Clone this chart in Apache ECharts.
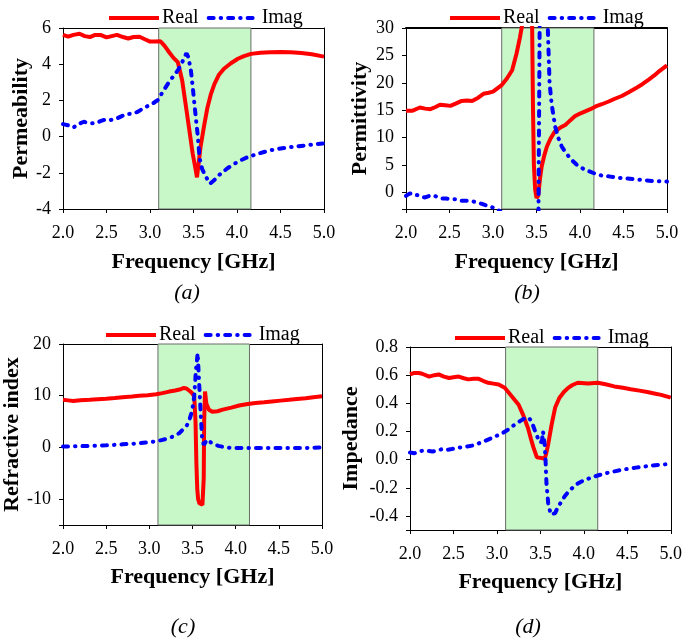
<!DOCTYPE html>
<html><head><meta charset="utf-8">
<script src="https://cdn.jsdelivr.net/npm/echarts@6/dist/echarts.min.js"></script>
<style>html,body{margin:0;padding:0;background:#fff}#c{width:685px;height:639px}</style>
</head><body><div id="c"></div>
<script>
// ---------- data ----------
const seriesNames = ['Real', 'Imag'];
const panelLabels = ['(a)', '(b)', '(c)', '(d)'];
const yTitles = ['Permeability', 'Permittivity', 'Refractive index', 'Impedance'];
const xTitle = 'Frequency [GHz]';
const band = [3.1, 4.16];
const xRange = [2, 5];
const xStep = 0.5;
const yRanges = [[-4, 6], [-3, 30], [-15, 20], [-0.5, 0.8]];
const yLabelSteps = [2, 5, 10, 0.2];

// (a) Permeability
const aRealF = [2.00,2.06,2.12,2.19,2.25,2.31,2.37,2.43,2.50,2.56,2.62,2.69,2.75,2.81,2.88,2.94,3.00,3.06,3.12,3.17,3.22,3.27,3.32,3.37,3.41,3.45,3.49,3.52,3.54,3.56,3.58,3.62,3.66,3.70,3.74,3.79,3.85,3.93,4.01,4.08,4.16,4.27,4.38,4.50,4.62,4.74,4.86,5.00];
const aRealV = [5.62,5.52,5.62,5.68,5.55,5.50,5.62,5.62,5.48,5.55,5.62,5.50,5.42,5.50,5.52,5.38,5.25,5.25,5.27,5.00,4.66,4.35,4.11,3.10,1.77,0.43,-0.92,-1.70,-2.25,-1.45,-0.60,0.55,1.60,2.35,2.90,3.40,3.75,4.05,4.30,4.45,4.57,4.63,4.66,4.67,4.66,4.62,4.55,4.42];
const aImagF = [2.00,2.06,2.12,2.18,2.24,2.30,2.37,2.43,2.49,2.55,2.61,2.67,2.73,2.79,2.85,2.91,2.97,3.03,3.09,3.15,3.21,3.27,3.32,3.37,3.40,3.42,3.44,3.47,3.49,3.51,3.53,3.55,3.57,3.60,3.64,3.69,3.74,3.80,3.89,3.97,4.05,4.13,4.22,4.31,4.40,4.50,4.60,4.70,4.80,4.90,5.00];
const aImagV = [0.69,0.62,0.50,0.70,0.82,0.74,0.73,0.85,0.95,0.92,0.98,1.12,1.25,1.26,1.35,1.52,1.68,1.82,2.02,2.50,2.95,3.35,3.66,4.10,4.45,4.60,4.40,3.66,2.80,1.82,0.90,0.00,-1.20,-1.80,-2.20,-2.60,-2.40,-2.10,-1.75,-1.50,-1.29,-1.12,-0.98,-0.85,-0.74,-0.66,-0.59,-0.54,-0.48,-0.42,-0.37];

// (b) Permittivity
const bRealF = [2.00,2.07,2.16,2.22,2.28,2.34,2.39,2.45,2.51,2.57,2.64,2.70,2.76,2.83,2.89,2.95,3.00,3.05,3.10,3.16,3.22,3.27,3.31,3.34,3.37,3.40,3.43,3.445,3.45,3.46,3.47,3.485,3.50,3.52,3.54,3.56,3.59,3.62,3.66,3.71,3.77,3.83,3.89,3.94,4.00,4.06,4.12,4.18,4.25,4.33,4.40,4.48,4.56,4.64,4.72,4.79,4.85,4.90,4.95,5.00];
const bRealV = [14.9,14.9,15.5,15.3,15.2,15.6,16.0,15.9,15.8,16.2,16.7,16.8,16.7,17.3,18.0,18.2,18.4,19.0,19.6,20.8,22.3,25.3,28.3,31.0,50,90,60,40,30,15,5,0.5,-1.0,-0.6,2.5,4.8,6.8,8.4,9.8,11.1,11.8,12.3,13.2,13.9,14.4,14.8,15.2,15.7,16.1,16.6,17.1,17.6,18.3,19.0,19.8,20.6,21.3,22.0,22.6,23.2];
const bImagF = [2.00,2.04,2.07,2.11,2.14,2.18,2.22,2.27,2.31,2.36,2.41,2.46,2.51,2.57,2.62,2.68,2.74,2.79,2.83,2.88,2.93,2.98,3.02,3.08,3.15,3.25,3.35,3.45,3.50,3.52,3.54,3.58,3.61,3.63,3.65,3.675,3.715,3.75,3.79,3.83,3.87,3.92,3.96,4.03,4.10,4.18,4.25,4.35,4.44,4.54,4.64,4.74,4.83,4.92,5.00];
const bImagV = [-0.6,-0.2,-0.1,-0.4,-0.5,-0.8,-0.9,-0.6,-0.5,-0.8,-1.1,-1.1,-1.2,-1.2,-1.5,-1.5,-1.5,-1.7,-1.9,-2.1,-2.4,-2.6,-2.9,-3.4,-4.5,-6,-9,-20,-40,-10,40,100,50,30,20,16,12,10,8.4,7.4,6.6,5.7,5.1,4.4,3.9,3.4,3.1,2.9,2.7,2.55,2.4,2.25,2.1,2.05,2.0];

// (c) Refractive index
const cRealF = [2.00,2.06,2.12,2.20,2.31,2.40,2.50,2.60,2.69,2.80,2.88,2.98,3.08,3.15,3.23,3.30,3.35,3.40,3.43,3.46,3.49,3.52,3.535,3.545,3.555,3.565,3.58,3.60,3.615,3.63,3.635,3.645,3.66,3.69,3.73,3.79,3.85,3.95,4.04,4.14,4.23,4.33,4.42,4.52,4.62,4.71,4.81,4.90,5.00];
const cRealV = [9.2,9.1,9.0,9.1,9.2,9.3,9.4,9.55,9.7,9.85,10.0,10.1,10.3,10.5,10.8,11.0,11.2,11.5,11.4,11.0,10.6,9.9,5,-3,-8,-10,-10.8,-11.0,-11.1,-6,5,10.8,8.5,7.3,6.9,7.0,7.3,7.7,8.1,8.4,8.6,8.75,8.9,9.05,9.2,9.35,9.5,9.7,9.9];
const cImagF = [2.00,2.10,2.20,2.31,2.40,2.50,2.60,2.69,2.80,2.90,3.00,3.08,3.15,3.23,3.30,3.35,3.39,3.42,3.45,3.48,3.50,3.52,3.54,3.56,3.575,3.595,3.61,3.63,3.67,3.70,3.75,3.80,3.86,3.94,4.04,4.14,4.23,4.33,4.42,4.52,4.62,4.71,4.81,4.90,5.00];
const cImagV = [0.2,0.2,0.25,0.3,0.35,0.4,0.5,0.6,0.7,0.85,1.0,1.2,1.45,1.8,2.3,2.8,3.5,4.0,4.6,6.2,7.6,9.9,15.0,18.2,13.1,6.6,2.1,0.5,1.5,1.1,0.6,0.3,0.1,-0.1,-0.1,-0.1,-0.1,-0.1,-0.1,-0.1,-0.1,-0.1,-0.1,-0.05,0.0];

// (d) Impedance
const dRealF = [2.00,2.05,2.10,2.14,2.22,2.28,2.33,2.39,2.45,2.50,2.56,2.62,2.67,2.73,2.79,2.84,2.90,2.96,3.02,3.09,3.13,3.17,3.21,3.25,3.30,3.33,3.36,3.39,3.42,3.46,3.51,3.55,3.57,3.59,3.63,3.67,3.72,3.77,3.82,3.87,3.93,4.05,4.16,4.25,4.35,4.45,4.54,4.64,4.73,4.81,4.89,5.00];
const dRealV = [0.605,0.616,0.615,0.61,0.59,0.60,0.605,0.59,0.58,0.585,0.59,0.578,0.57,0.575,0.574,0.56,0.546,0.54,0.534,0.51,0.48,0.45,0.42,0.39,0.32,0.27,0.22,0.15,0.087,0.016,0.012,0.005,0.05,0.11,0.25,0.37,0.44,0.48,0.51,0.53,0.546,0.54,0.546,0.535,0.52,0.51,0.50,0.49,0.48,0.47,0.46,0.44];
const dImagF = [2.00,2.05,2.10,2.17,2.26,2.32,2.37,2.43,2.48,2.56,2.64,2.72,2.79,2.87,2.94,3.00,3.06,3.12,3.17,3.22,3.27,3.31,3.34,3.37,3.40,3.42,3.44,3.46,3.48,3.505,3.52,3.53,3.54,3.55,3.56,3.57,3.59,3.62,3.64,3.67,3.70,3.74,3.78,3.82,3.87,3.93,3.99,4.05,4.10,4.16,4.23,4.31,4.40,4.50,4.60,4.70,4.78,4.85,4.93,5.00];
const dImagV = [0.05,0.045,0.06,0.064,0.058,0.065,0.075,0.07,0.075,0.085,0.092,0.1,0.115,0.135,0.153,0.17,0.186,0.21,0.233,0.255,0.275,0.29,0.30,0.295,0.27,0.235,0.2,0.17,0.14,0.12,0.14,0.2,0.15,0.1,-0.01,-0.17,-0.31,-0.39,-0.395,-0.38,-0.34,-0.3,-0.26,-0.23,-0.2,-0.17,-0.15,-0.136,-0.125,-0.113,-0.1,-0.089,-0.077,-0.066,-0.057,-0.049,-0.043,-0.038,-0.034,-0.03];

const panels = [
  [[aRealF, aRealV], [aImagF, aImagV]],
  [[bRealF, bRealV], [bImagF, bImagV]],
  [[cRealF, cRealV], [cImagF, cImagV]],
  [[dRealF, dRealV], [dImagF, dImagV]]
];

// ---------- layout / style ----------
const FONT = '"Liberation Serif", "Times New Roman", serif';
const grids = [
  {left: 63, top: 28, width: 261, height: 181},
  {left: 406, top: 28, width: 261, height: 181},
  {left: 62, top: 344, width: 260, height: 181},
  {left: 410, top: 347, width: 263, height: 183}
];
const xNameGaps = [42, 42, 41, 41];
const yNameGaps = [31, 35, 40, 48];
const ySplit = [null, 6, 4, 6];
const legendPos = [[102, 3], [443, 3], [99, 320], [448, 323]];
const captionPos = [[187, 293], [527, 293], [183, 627], [528, 627]];
const RED = '#ff0000', BLUE = '#0000ff';
const DASH = [5, 7, 0.5, 7];
const redStyle = {color: RED, width: 4, type: 'solid'};
const blueStyle = {color: BLUE, width: 4, type: DASH, cap: 'round'};

function zip(f, v) { return f.map((x, i) => [x, v[i]]); }
function isMult(v, s) { const r = v / s; return Math.abs(r - Math.round(r)) < 1e-6; }

const xAxes = [], yAxes = [], series = [], legends = [], graphics = [];
grids.forEach((g, i) => {
  const tickStyle = {show: true, inside: false, length: 4, lineStyle: {color: '#000', width: 1}};
  xAxes.push({
    type: 'value', gridIndex: i, min: xRange[0], max: xRange[1], interval: xStep,
    axisLine: {onZero: false, lineStyle: {color: '#000', width: 1}},
    axisTick: tickStyle, splitLine: {show: false},
    axisLabel: {formatter: v => v.toFixed(1), fontFamily: FONT, fontSize: 18, color: '#000', margin: 15},
    name: xTitle, nameLocation: 'middle', nameGap: xNameGaps[i],
    nameTextStyle: {fontFamily: FONT, fontWeight: 'bold', fontSize: 22, color: '#000'}
  });
  xAxes.push({
    type: 'value', gridIndex: i, position: 'top', min: xRange[0], max: xRange[1],
    axisLine: {onZero: false, lineStyle: {color: '#000', width: i === 1 ? 2 : 1}},
    axisTick: {show: false}, axisLabel: {show: false}, splitLine: {show: false}
  });
  const step = yLabelSteps[i];
  const ya = {
    type: 'value', gridIndex: i, min: yRanges[i][0], max: yRanges[i][1],
    axisLine: {show: true, onZero: false, lineStyle: {color: '#000', width: 1}},
    axisTick: tickStyle, splitLine: {show: false},
    axisLabel: {
      formatter: v => isMult(v, step) ? (step < 1 ? v.toFixed(1) : String(Math.round(v))) : '',
      fontFamily: FONT, fontSize: 18, color: '#000', margin: 12
    },
    name: yTitles[i], nameLocation: 'middle', nameGap: yNameGaps[i],
    nameTextStyle: {fontFamily: FONT, fontWeight: 'bold', fontSize: 22, color: '#000'}
  };
  if (ySplit[i]) ya.splitNumber = ySplit[i]; else ya.interval = step;
  yAxes.push(ya);
  yAxes.push({
    type: 'value', gridIndex: i, position: 'right', min: yRanges[i][0], max: yRanges[i][1],
    axisLine: {show: true, onZero: false, lineStyle: {color: '#000', width: 1}},
    axisTick: {show: false}, axisLabel: {show: false}, splitLine: {show: false}
  });
  const xi = 2 * i, yi = 2 * i;
  // shaded band
  series.push({
    type: 'line', name: 'band' + i, xAxisIndex: xi, yAxisIndex: yi, data: [], silent: true,
    markArea: {
      silent: true,
      itemStyle: {color: '#c8f8c8', borderColor: '#6b6b6b', borderWidth: 1},
      data: [[{xAxis: band[0]}, {xAxis: band[1]}]]
    }
  });
  const [re, im] = panels[i];
  series.push({
    type: 'line', name: seriesNames[0], xAxisIndex: xi, yAxisIndex: yi,
    data: zip(re[0], re[1]), symbol: 'none', showSymbol: false, clip: true,
    lineStyle: redStyle, itemStyle: {color: RED}, z: 3
  });
  series.push({
    type: 'line', name: seriesNames[1], xAxisIndex: xi, yAxisIndex: yi,
    data: zip(im[0], im[1]), symbol: 'none', showSymbol: false, clip: true,
    lineStyle: blueStyle, itemStyle: {color: BLUE}, z: 4
  });
  legends.push({
    left: legendPos[i][0], top: legendPos[i][1], orient: 'horizontal',
    itemWidth: 50, itemHeight: 14, itemGap: 8, selectedMode: false,
    textStyle: {fontFamily: FONT, fontSize: 20, color: '#000', padding: [0, 0, 0, -2]},
    data: [
      {name: seriesNames[0], itemStyle: {opacity: 0}, lineStyle: {width: 4, color: RED}},
      {name: seriesNames[1], itemStyle: {opacity: 0}, lineStyle: {width: 4, color: BLUE, type: DASH, cap: 'round'}}
    ]
  });
  graphics.push({
    type: 'text', x: captionPos[i][0], y: captionPos[i][1], silent: true,
    style: {text: panelLabels[i], textAlign: 'center', textVerticalAlign: 'middle',
      font: 'italic 22px ' + FONT, fill: '#000'}
  });
});

const chart = echarts.init(document.getElementById('c'), null, {renderer: 'canvas'});
chart.setOption({
  backgroundColor: '#fff',
  animation: false,
  grid: grids.map(g => Object.assign({containLabel: false, show: false}, g)),
  xAxis: xAxes, yAxis: yAxes, series: series, legend: legends, graphic: graphics
});
</script></body></html>
